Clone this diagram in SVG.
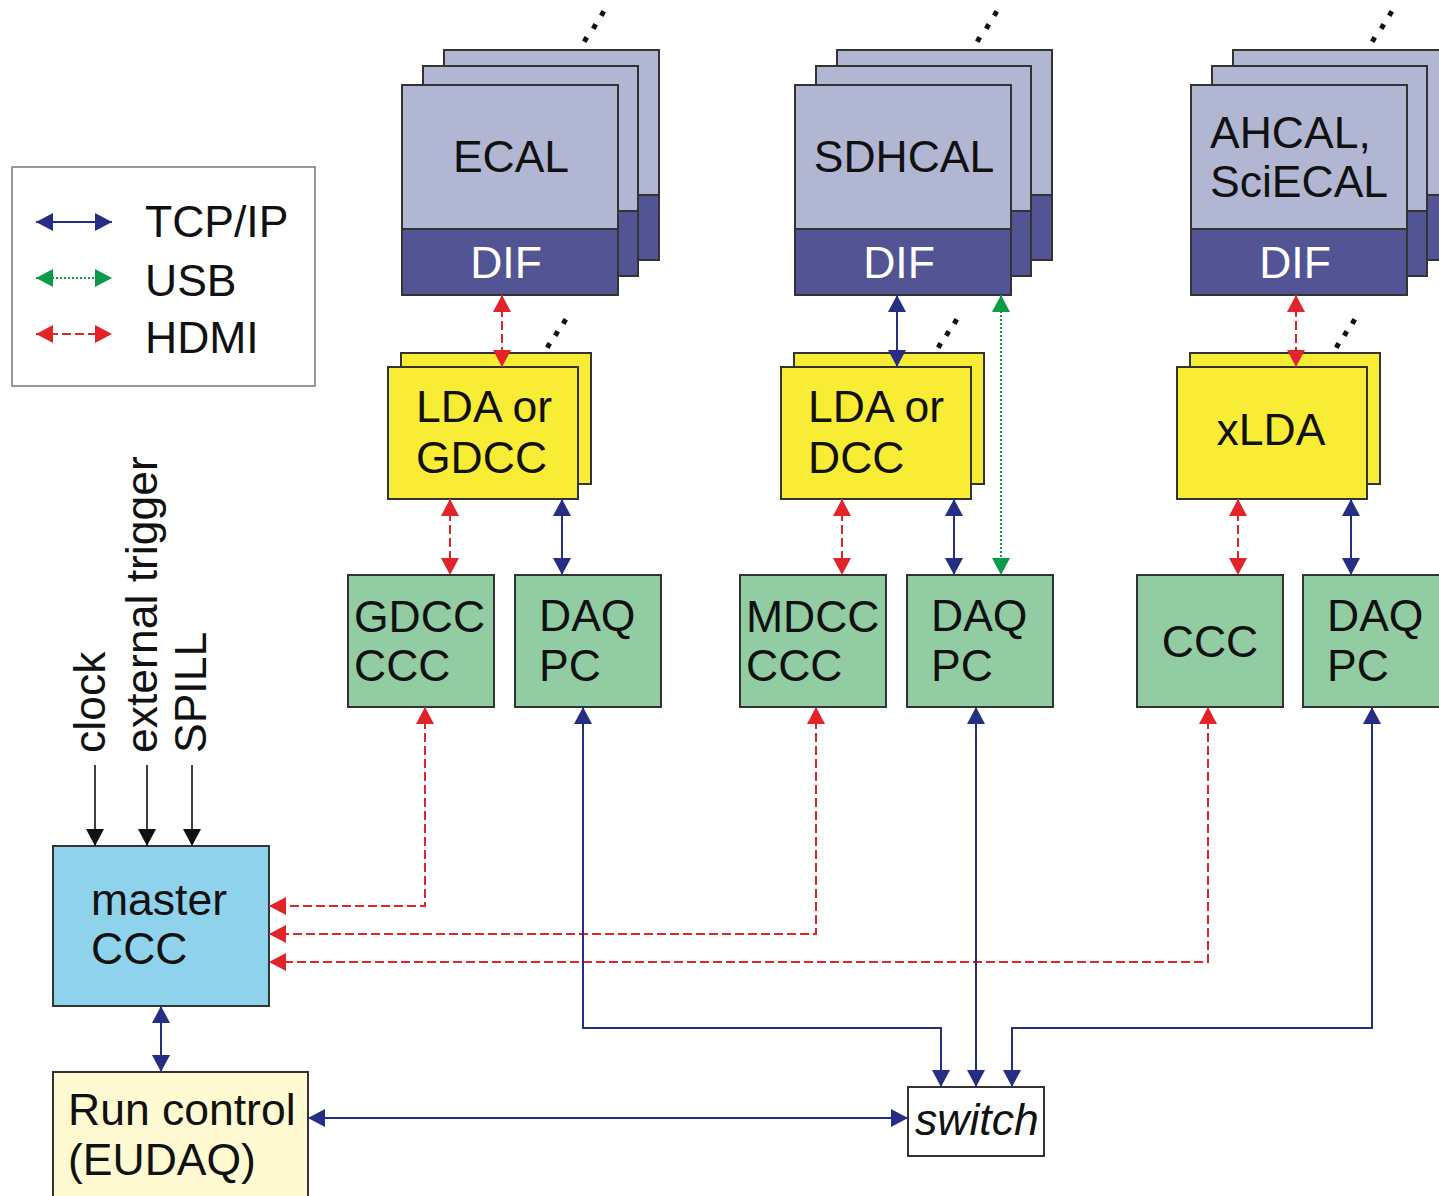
<svg xmlns="http://www.w3.org/2000/svg" width="1439" height="1196" viewBox="0 0 1439 1196">
<defs>
<style>
text{font-family:"Liberation Sans",Arial,sans-serif;font-size:44.5px;fill:#111}
.board{fill:#b1b7d3;stroke:#333;stroke-width:2}
.dif{fill:#525493;stroke:#333;stroke-width:2}
.dift{fill:#fff;text-anchor:middle}
.lda{fill:#f9ec35;stroke:#333;stroke-width:2}
.grn{fill:#91cca3;stroke:#333;stroke-width:2}
.dot{fill:#111}
.tcp{fill:none;stroke:#262e84;stroke-width:2;marker-start:url(#mb);marker-end:url(#mb)}
.hdmi{fill:none;stroke:#e0242a;stroke-width:2;stroke-dasharray:9 4;marker-start:url(#mr);marker-end:url(#mr)}
.usb{fill:none;stroke:#0a9a48;stroke-width:2;stroke-dasharray:2 2;marker-start:url(#mg);marker-end:url(#mg)}
.sig{fill:none;stroke:#111;stroke-width:1.6;marker-end:url(#mk)}
</style>
<marker id="mb" markerUnits="userSpaceOnUse" markerWidth="18" markerHeight="18" refX="17" refY="9" orient="auto-start-reverse"><path d="M0,0L17,9L0,18z" fill="#262e84"/></marker>
<marker id="mr" markerUnits="userSpaceOnUse" markerWidth="18" markerHeight="18" refX="17" refY="9" orient="auto-start-reverse"><path d="M0,0L17,9L0,18z" fill="#e0242a"/></marker>
<marker id="mg" markerUnits="userSpaceOnUse" markerWidth="18" markerHeight="18" refX="17" refY="9" orient="auto-start-reverse"><path d="M0,0L17,9L0,18z" fill="#0a9a48"/></marker>
<marker id="mk" markerUnits="userSpaceOnUse" markerWidth="18" markerHeight="18" refX="17" refY="9" orient="auto-start-reverse"><path d="M0,0L17,9L0,18z" fill="#111"/></marker>
</defs>
<rect width="1439" height="1196" fill="#fff"/>

<g id="legend">
<rect x="12" y="167" width="303" height="219" fill="#fff" stroke="#777" stroke-width="1.5"/>
<path class="tcp" d="M36,222H112"/>
<path class="usb" d="M36,278H112"/>
<path class="hdmi" d="M36,334H112"/>
<text x="145" y="237">TCP/IP</text>
<text x="145" y="296">USB</text>
<text x="145" y="353">HDMI</text>
</g>

<g id="ecal">
<rect class="board" x="444" y="50" width="215" height="210"/><rect class="dif" x="444" y="195" width="215" height="65"/>
<rect class="board" x="423" y="66" width="215" height="210"/><rect class="dif" x="423" y="211" width="215" height="65"/>
<rect class="board" x="402" y="85" width="216" height="210"/><rect class="dif" x="402" y="229" width="216" height="66"/>
<text x="511" y="172" text-anchor="middle">ECAL</text>
<text class="dift" x="506" y="278">DIF</text>
<rect class="dot" x="583" y="37" width="5" height="5" transform="rotate(30 585.5 39.5)"/>
<rect class="dot" x="592" y="24" width="5" height="5" transform="rotate(30 594.5 26.5)"/>
<rect class="dot" x="600" y="11" width="5" height="5" transform="rotate(30 602.5 13.5)"/>
</g>

<g id="sdhcal">
<rect class="board" x="837" y="50" width="215" height="210"/><rect class="dif" x="837" y="195" width="215" height="65"/>
<rect class="board" x="816" y="66" width="215" height="210"/><rect class="dif" x="816" y="211" width="215" height="65"/>
<rect class="board" x="795" y="85" width="216" height="210"/><rect class="dif" x="795" y="229" width="216" height="66"/>
<text x="904" y="172" text-anchor="middle">SDHCAL</text>
<text class="dift" x="899" y="278">DIF</text>
<rect class="dot" x="976" y="37" width="5" height="5" transform="rotate(30 978.5 39.5)"/>
<rect class="dot" x="985" y="24" width="5" height="5" transform="rotate(30 987.5 26.5)"/>
<rect class="dot" x="993" y="11" width="5" height="5" transform="rotate(30 995.5 13.5)"/>
</g>

<g id="ahcal">
<rect class="board" x="1233" y="50" width="215" height="210"/><rect class="dif" x="1233" y="195" width="215" height="65"/>
<rect class="board" x="1212" y="66" width="215" height="210"/><rect class="dif" x="1212" y="211" width="215" height="65"/>
<rect class="board" x="1191" y="85" width="216" height="210"/><rect class="dif" x="1191" y="229" width="216" height="66"/>
<text x="1210" y="148">AHCAL,</text>
<text x="1210" y="197">SciECAL</text>
<text class="dift" x="1295" y="278">DIF</text>
<rect class="dot" x="1371" y="37" width="5" height="5" transform="rotate(30 1373.5 39.5)"/>
<rect class="dot" x="1380" y="24" width="5" height="5" transform="rotate(30 1382.5 26.5)"/>
<rect class="dot" x="1388" y="11" width="5" height="5" transform="rotate(30 1390.5 13.5)"/>
</g>

<g id="lda1">
<rect class="lda" x="401" y="353" width="190" height="131"/>
<rect class="lda" x="388" y="367" width="190" height="132"/>
<text x="416" y="422">LDA or</text>
<text x="416" y="473">GDCC</text>
<rect class="dot" x="546" y="343" width="5" height="5" transform="rotate(30 548.5 345.5)"/>
<rect class="dot" x="554" y="331" width="5" height="5" transform="rotate(30 556.5 333.5)"/>
<rect class="dot" x="562" y="319" width="5" height="5" transform="rotate(30 564.5 321.5)"/>
</g>

<g id="lda2">
<rect class="lda" x="794" y="353" width="190" height="131"/>
<rect class="lda" x="781" y="367" width="190" height="132"/>
<text x="808" y="422">LDA or</text>
<text x="808" y="473">DCC</text>
<rect class="dot" x="937" y="343" width="5" height="5" transform="rotate(30 939.5 345.5)"/>
<rect class="dot" x="945" y="331" width="5" height="5" transform="rotate(30 947.5 333.5)"/>
<rect class="dot" x="953" y="319" width="5" height="5" transform="rotate(30 955.5 321.5)"/>
</g>

<g id="xlda">
<rect class="lda" x="1190" y="353" width="190" height="131"/>
<rect class="lda" x="1177" y="367" width="190" height="132"/>
<text x="1271" y="445" text-anchor="middle">xLDA</text>
<rect class="dot" x="1335" y="343" width="5" height="5" transform="rotate(30 1337.5 345.5)"/>
<rect class="dot" x="1343" y="331" width="5" height="5" transform="rotate(30 1345.5 333.5)"/>
<rect class="dot" x="1351" y="319" width="5" height="5" transform="rotate(30 1353.5 321.5)"/>
</g>

<g id="gdccccc"><rect class="grn" x="348" y="575" width="146" height="132"/><text x="354" y="632">GDCC</text><text x="354" y="681">CCC</text></g>
<g id="daqpc1"><rect class="grn" x="515" y="575" width="146" height="132"/><text x="539" y="631">DAQ</text><text x="539" y="681">PC</text></g>
<g id="mdccccc"><rect class="grn" x="740" y="575" width="146" height="132"/><text x="746" y="632">MDCC</text><text x="746" y="681">CCC</text></g>
<g id="daqpc2"><rect class="grn" x="907" y="575" width="146" height="132"/><text x="931" y="631">DAQ</text><text x="931" y="681">PC</text></g>
<g id="ccc"><rect class="grn" x="1137" y="575" width="146" height="132"/><text x="1210" y="657" text-anchor="middle">CCC</text></g>
<g id="daqpc3"><rect class="grn" x="1303" y="575" width="146" height="132"/><text x="1327" y="631">DAQ</text><text x="1327" y="681">PC</text></g>

<g id="masterccc"><rect x="53" y="846" width="216" height="160" fill="#8fd2eb" stroke="#333" stroke-width="2"/><text x="91" y="915">master</text><text x="91" y="964">CCC</text></g>
<g id="runcontrol"><rect x="53" y="1072" width="255" height="140" fill="#fffad1" stroke="#333" stroke-width="2"/><text x="68" y="1125">Run control</text><text x="68" y="1175">(EUDAQ)</text></g>
<g id="switch"><rect x="908" y="1087" width="136" height="69" fill="#fff" stroke="#333" stroke-width="2"/><text x="915" y="1135" font-style="italic">switch</text></g>

<g id="inputs">
<text transform="translate(105,753) rotate(-90)">clock</text>
<text transform="translate(157,753) rotate(-90)">external trigger</text>
<text transform="translate(206,753) rotate(-90)">SPILL</text>
</g>

<g id="connectors">
<path class="sig" d="M95,765V846"/>
<path class="sig" d="M147,765V846"/>
<path class="sig" d="M192,765V846"/>
<path class="hdmi" d="M502,295V367"/>
<path class="tcp" d="M897,295V367"/>
<path class="hdmi" d="M1296,295V367"/>
<path class="usb" d="M1001,295V575"/>
<path class="hdmi" d="M450,499V575"/>
<path class="tcp" d="M562,499V575"/>
<path class="hdmi" d="M842,499V575"/>
<path class="tcp" d="M954,499V575"/>
<path class="hdmi" d="M1238,499V575"/>
<path class="tcp" d="M1351,499V575"/>
<path class="hdmi" d="M425,707V906H269"/>
<path class="hdmi" d="M816,707V934H269"/>
<path class="hdmi" d="M1208,707V962H269"/>
<path class="tcp" d="M583,707V1028H941V1087"/>
<path class="tcp" d="M976,707V1087"/>
<path class="tcp" d="M1372,707V1028H1012V1087"/>
<path class="tcp" d="M161,1006V1072"/>
<path class="tcp" d="M308,1118H908"/>
</g>
</svg>
